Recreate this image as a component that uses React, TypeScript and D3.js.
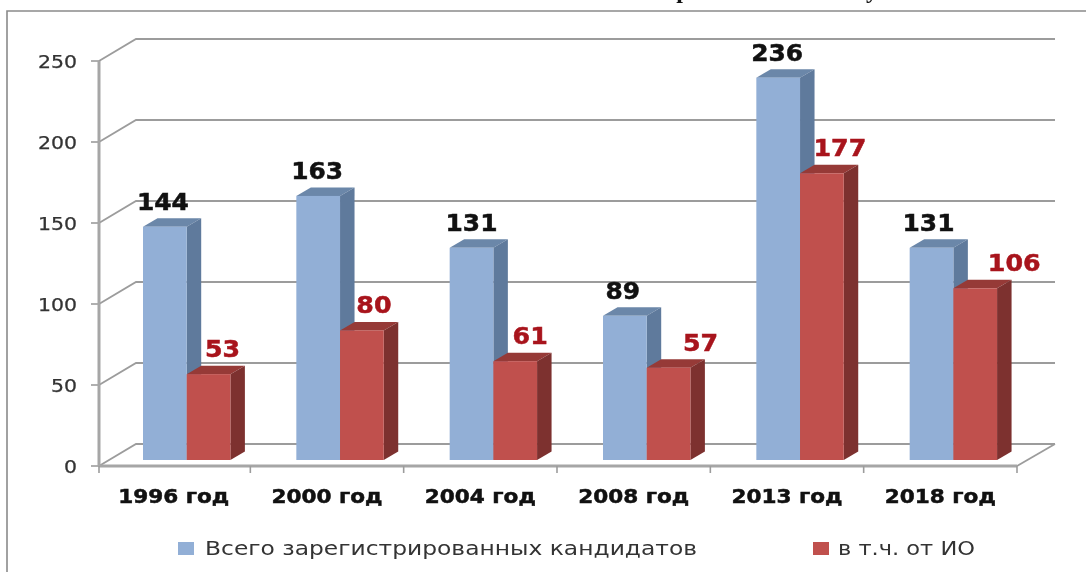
import React from 'react'
import * as d3 from 'd3'

const categories = ['1996 год', '2000 год', '2004 год', '2008 год', '2013 год', '2018 год']
const totalValues = [144, 163, 131, 89, 236, 131]
const incumbentValues = [53, 80, 61, 57, 177, 106]
const tickValues = [0, 50, 100, 150, 200, 250]
const seriesNames = ['Всего зарегистрированных кандидатов', 'в т.ч. от ИО']

const FONT = '"DejaVu Sans", sans-serif'

const width = 1086
const height = 572
const axisX = 99
const axisRight = 1017
const axisBottom = 466
const axisTop = 61
// depth of the chart floor and of the bars
const wallDx = 37
const wallDy = -22
const barDx = 14.5
const barDy = -8.5
const barBase = 460

// the data labels were moved by hand in the original chart
const totalLabelDx = [-2, -1, 0, -2, -1, -3]
const incumbentLabelDx = [14, 12, 15, 32, 18, 39]

const x = d3.scaleBand().domain(categories).range([97, axisRight])
const y = d3.scaleLinear().domain([0, 250]).range([axisBottom, axisTop])
const barHeight = (v: number) => axisBottom - y(v)

const path = d3.line()

const Bar3D = ({ left, w, value, front, side, top }: any) => {
  const t = barBase - barHeight(value)
  const r = left + w
  return (
    <g>
      <path d={path([[left, t], [left + barDx, t + barDy], [r + barDx, t + barDy], [r, t]])!} fill={top} />
      <path d={path([[r, t], [r + barDx, t + barDy], [r + barDx, barBase + barDy], [r, barBase]])!} fill={side} />
      <rect x={left} y={t} width={w} height={barBase - t} fill={front} />
    </g>
  )
}

const App = () => {
  const band = x.bandwidth()
  const barOffset = band * 0.3
  const barW = band * 0.285
  return (
    <svg width={width} height={height} style={{ position: 'absolute', left: 0, top: 0, background: '#fff', filter: 'blur(0.4px)' }}>
      {/* tails of the heading that is cut off above the chart */}
      <text x={683} y={-2} textAnchor="middle" fontFamily='"Liberation Serif", serif' fontSize={24} fontWeight="bold" fill="#111">
        р
      </text>
      <text x={872} y={-2} textAnchor="middle" fontFamily='"Liberation Serif", serif' fontSize={24} fontWeight="bold" fill="#111">
        у
      </text>
      <path d={path([[1086, 11], [7, 11], [7, 572]])!} fill="none" stroke="#8a8a8a" strokeWidth={1.6} />

      {/* grid: back wall lines and the left wall diagonals */}
      {tickValues.map((t) => (
        <g key={t}>
          <path
            d={path([[axisX, y(t)], [axisX + wallDx, y(t) + wallDy], [axisRight + wallDx + 1, y(t) + wallDy]])!}
            fill="none"
            stroke="#9c9c9c"
            strokeWidth={1.8}
          />
          <line x1={axisX - 8} x2={axisX} y1={y(t)} y2={y(t)} stroke="#9c9c9c" strokeWidth={1.6} />
          <text
            x={77}
            y={y(t) + 6.5}
            textAnchor="end"
            fontFamily={FONT}
            fontSize={17}
            fill="#333"
            stroke="#333"
            strokeWidth={0.25}
            textLength={String(t).length * 13}
            lengthAdjust="spacingAndGlyphs"
          >
            {t}
          </text>
        </g>
      ))}
      <path d={path([[axisRight, axisBottom], [axisRight + wallDx + 1, axisBottom + wallDy]])!} stroke="#9c9c9c" strokeWidth={1.8} />
      <line x1={axisX} x2={axisX} y1={axisTop} y2={axisBottom} stroke="#a6a6a6" strokeWidth={3} />
      <line x1={axisX} x2={axisRight} y1={axisBottom} y2={axisBottom} stroke="#a6a6a6" strokeWidth={3} />
      {[axisX, ...categories.slice(1).map((c) => x(c)!), axisRight].map((tx) => (
        <line key={tx} x1={tx} x2={tx} y1={axisBottom} y2={axisBottom + 7} stroke="#9c9c9c" strokeWidth={1.6} />
      ))}

      {categories.map((c, i) => {
        const left = x(c)! + barOffset
        const tTop = barBase - barHeight(totalValues[i])
        const iTop = barBase - barHeight(incumbentValues[i])
        return (
          <g key={c}>
            <Bar3D left={left} w={barW} value={totalValues[i]} front="#92afd6" side="#5f7a9c" top="#6b87a9" />
            <Bar3D left={left + barW} w={barW} value={incumbentValues[i]} front="#c0504d" side="#7d312f" top="#963a37" />
            <text
              x={left + barW * 0.5 + totalLabelDx[i]}
              y={tTop - 17}
              textAnchor="middle"
              fontFamily={FONT}
              fontSize={23}
              fontWeight="bold"
              fill="#111"
              stroke="#111"
              strokeWidth={0.5}
              textLength={String(totalValues[i]).length * 17.3}
              lengthAdjust="spacingAndGlyphs"
            >
              {totalValues[i]}
            </text>
            <text
              x={left + barW * 1.5 + incumbentLabelDx[i]}
              y={iTop - 17}
              textAnchor="middle"
              fontFamily={FONT}
              fontSize={23}
              fontWeight="bold"
              fill="#a8141c"
              stroke="#a8141c"
              strokeWidth={0.5}
              textLength={String(incumbentValues[i]).length * 17.6}
              lengthAdjust="spacingAndGlyphs"
            >
              {incumbentValues[i]}
            </text>
            <text
              x={x(c)! + band / 2}
              y={503}
              textAnchor="middle"
              fontFamily={FONT}
              fontSize={19}
              fontWeight="bold"
              fill="#111"
              stroke="#111"
              strokeWidth={0.5}
              textLength={111}
              lengthAdjust="spacingAndGlyphs"
            >
              {c}
            </text>
          </g>
        )
      })}

      {/* legend */}
      <rect x={178} y={542} width={16} height={13} fill="#92afd6" />
      <text x={205} y={555} fontFamily={FONT} fontSize={19} fill="#333" textLength={492} lengthAdjust="spacingAndGlyphs">
        {seriesNames[0]}
      </text>
      <rect x={813} y={542} width={16} height={13} fill="#c0504d" />
      <text x={838} y={555} fontFamily={FONT} fontSize={19} fill="#333" textLength={137} lengthAdjust="spacingAndGlyphs">
        {seriesNames[1]}
      </text>
    </svg>
  )
}

export default App
